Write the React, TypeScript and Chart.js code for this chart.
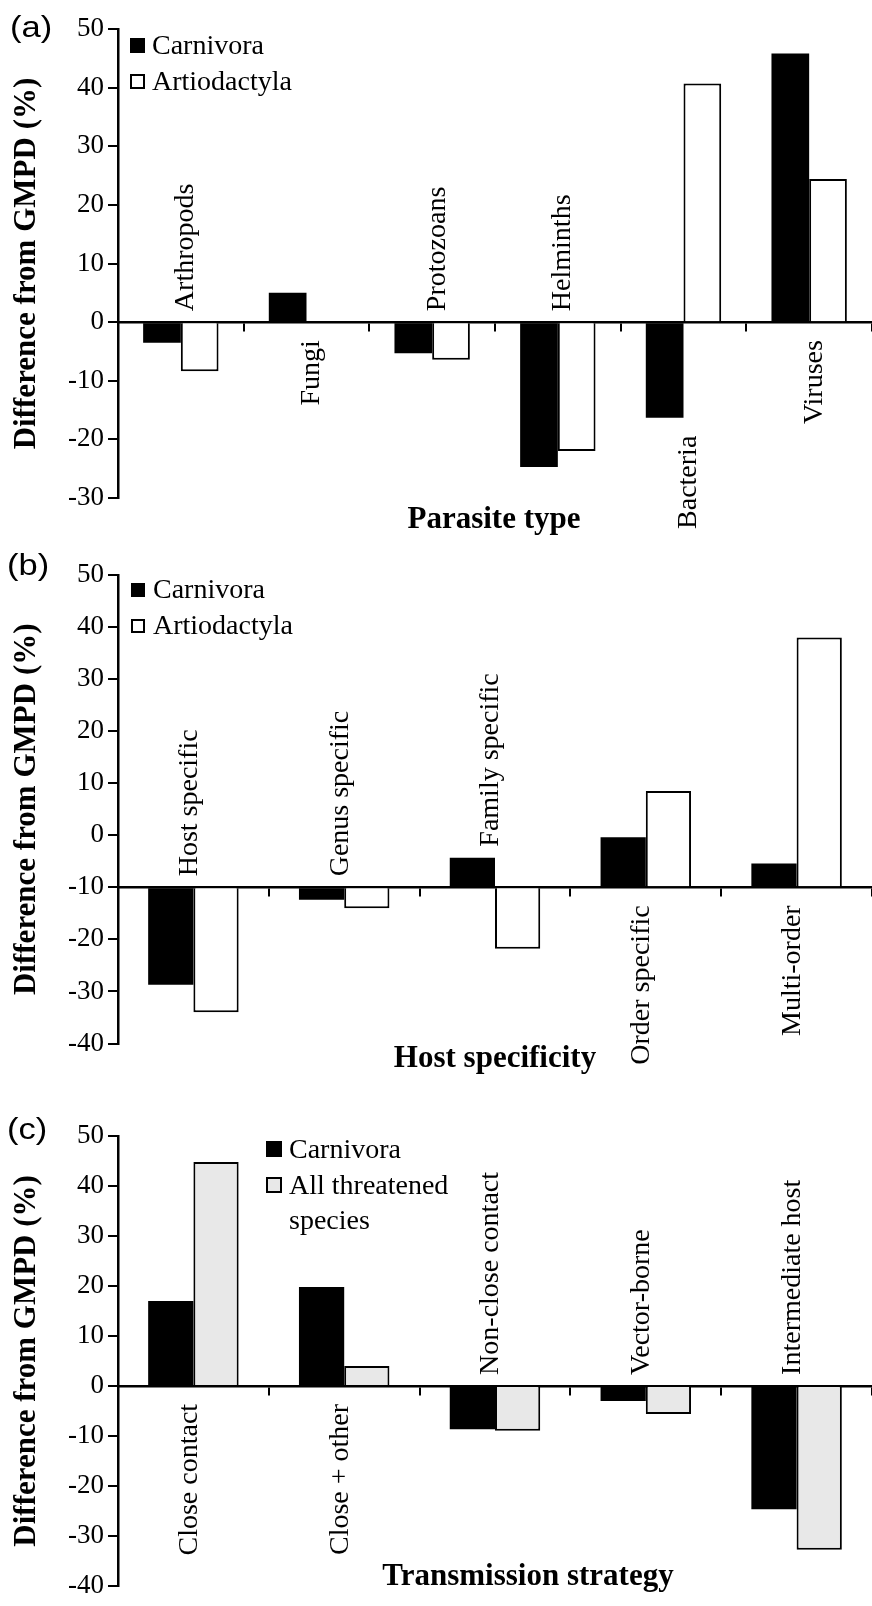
import React, { useEffect, useRef } from 'react';
import { Chart, registerables } from 'chart.js';

Chart.register(...registerables);

const SERIF = '"Liberation Serif", "Times New Roman", serif';
const SANS = '"Liberation Sans", Arial, sans-serif';

// ---------- Data ----------
// (a) Parasite type
const parasiteTypes = ['Arthropods', 'Fungi', 'Protozoans', 'Helminths', 'Bacteria', 'Viruses'];
const carnivoraParasite: (number | null)[] = [-3.5, 5.0, -5.3, -24.7, -16.3, 45.8];
const artiodactylaParasite: (number | null)[] = [-8.4, null, -6.4, -22.0, 40.7, 24.4];

// (b) Host specificity
const hostSpecificity = ['Host specific', 'Genus specific', 'Family specific', 'Order specific', 'Multi-order'];
const carnivoraHost: (number | null)[] = [-28.7, -12.4, -4.3, -0.4, -5.4];
const artiodactylaHost: (number | null)[] = [-34.0, -14.0, -21.8, 8.5, 38.0];
const hostAxisCrossing = -10;

// (c) Transmission strategy
const transmissionStrategies = ['Close contact', 'Close + other', 'Non-close contact', 'Vector-borne', 'Intermediate host'];
const carnivoraTransmission: (number | null)[] = [17.0, 19.8, -8.7, -3.0, -24.7];
const threatenedTransmission: (number | null)[] = [44.8, 4.0, -9.0, -5.6, -32.8];

const yAxisTitle = 'Difference from GMPD (%)';

type Series = { label: string[]; values: (number | null)[]; fill: string; border: number };
type PanelCfg = {
  letter: string;
  categories: string[];
  series: Series[];
  base: number;
  min: number;
  max: number;
  canvasTop: number;
  height: number;
  top: number;
  bottom: number;
  labelDx: number;
  xTitle: string;
  xTitleX: number;
  xTitleY: number;
  letterX: number;
  letterY: number;
  legend: { x: number; size: number; textX: number; tops: number[]; lineGap: number };
};

const panels: PanelCfg[] = [
  {
    letter: '(a)',
    categories: parasiteTypes,
    series: [
      { label: ['Carnivora'], values: carnivoraParasite, fill: '#000000', border: 0 },
      { label: ['Artiodactyla'], values: artiodactylaParasite, fill: '#ffffff', border: 2 },
    ],
    base: 0,
    min: -30,
    max: 50,
    canvasTop: 0,
    height: 545,
    top: 29,
    bottom: 498,
    labelDx: 5,
    xTitle: 'Parasite type',
    xTitleX: 494,
    xTitleY: 528,
    letterX: 10,
    letterY: 37,
    legend: { x: 130, size: 15, textX: 152, tops: [38, 74], lineGap: 35 },
  },
  {
    letter: '(b)',
    categories: hostSpecificity,
    series: [
      { label: ['Carnivora'], values: carnivoraHost, fill: '#000000', border: 0 },
      { label: ['Artiodactyla'], values: artiodactylaHost, fill: '#ffffff', border: 2 },
    ],
    base: hostAxisCrossing,
    min: -40,
    max: 50,
    canvasTop: 540,
    height: 548,
    top: 35,
    bottom: 503.5,
    labelDx: -4,
    xTitle: 'Host specificity',
    xTitleX: 495,
    xTitleY: 527,
    letterX: 7,
    letterY: 35,
    legend: { x: 131, size: 14, textX: 153, tops: [43, 79], lineGap: 35 },
  },
  {
    letter: '(c)',
    categories: transmissionStrategies,
    series: [
      { label: ['Carnivora'], values: carnivoraTransmission, fill: '#000000', border: 0 },
      { label: ['All threatened', 'species'], values: threatenedTransmission, fill: '#e8e8e8', border: 2 },
    ],
    base: 0,
    min: -40,
    max: 50,
    canvasTop: 1070,
    height: 536,
    top: 66,
    bottom: 530,
    labelDx: -4,
    xTitle: 'Transmission strategy',
    xTitleX: 528,
    xTitleY: 515,
    letterX: 7,
    letterY: 69,
    legend: { x: 266, size: 16, textX: 289, tops: [71, 107], lineGap: 35 },
  },
];

function makeDecorPlugin(cfg: PanelCfg) {
  return {
    id: 'panelDecor',
    afterDraw(chart: any) {
      const ctx: CanvasRenderingContext2D = chart.ctx;
      const xs = chart.scales.x;
      const ys = chart.scales.y;
      const area = chart.chartArea;
      ctx.save();
      ctx.fillStyle = '#000';

      // Category labels (rotated)
      ctx.font = `28px ${SERIF}`;
      cfg.categories.forEach((lab, i) => {
        const vals = cfg.series
          .map((s) => s.values[i])
          .filter((v) => v !== null && v !== undefined) as number[];
        const up = Math.max(0, ...vals.map((v) => v - cfg.base));
        const down = Math.max(0, ...vals.map((v) => cfg.base - v));
        const cx = xs.getPixelForValue(i) + cfg.labelDx;
        ctx.save();
        if (up <= down) {
          const y0 = ys.getPixelForValue(cfg.base + up) - 11;
          ctx.translate(cx, y0);
          ctx.rotate(-Math.PI / 2);
          ctx.textAlign = 'left';
        } else {
          const y0 = ys.getPixelForValue(cfg.base - down) + 18;
          ctx.translate(cx, y0);
          ctx.rotate(-Math.PI / 2);
          ctx.textAlign = 'right';
        }
        ctx.textBaseline = 'middle';
        ctx.fillText(lab, 0, 0);
        ctx.restore();
      });

      // Y axis title
      ctx.save();
      ctx.font = `bold 31px ${SERIF}`;
      ctx.translate(35, (area.top + area.bottom) / 2);
      ctx.rotate(-Math.PI / 2);
      ctx.textAlign = 'center';
      ctx.textBaseline = 'alphabetic';
      ctx.fillText(yAxisTitle, 0, 0);
      ctx.restore();

      // X axis title
      ctx.font = `bold 31px ${SERIF}`;
      ctx.textAlign = 'center';
      ctx.textBaseline = 'alphabetic';
      ctx.fillText(cfg.xTitle, cfg.xTitleX, cfg.xTitleY);

      // Panel letter
      ctx.save();
      ctx.font = `30px ${SANS}`;
      ctx.textAlign = 'left';
      ctx.translate(cfg.letterX, cfg.letterY);
      ctx.scale(1.15, 1);
      ctx.fillText(cfg.letter, 0, 0);
      ctx.restore();

      // Legend
      const lg = cfg.legend;
      ctx.font = `28px ${SERIF}`;
      ctx.textAlign = 'left';
      ctx.textBaseline = 'alphabetic';
      cfg.series.forEach((s, k) => {
        const top = lg.tops[k];
        ctx.fillStyle = s.fill;
        ctx.fillRect(lg.x, top, lg.size, lg.size);
        if (s.border > 0) {
          ctx.strokeStyle = '#000';
          ctx.lineWidth = 2;
          ctx.strokeRect(lg.x + 1, top + 1, lg.size - 2, lg.size - 2);
        }
        ctx.fillStyle = '#000';
        s.label.forEach((line, j) => {
          ctx.fillText(line, lg.textX, top + lg.size + 1 + j * lg.lineGap);
        });
      });

      ctx.restore();
    },
  };
}

function Panel({ cfg }: { cfg: PanelCfg }) {
  const ref = useRef<HTMLCanvasElement>(null);
  useEffect(() => {
    if (!ref.current) return;
    const chart = new Chart(ref.current, {
      type: 'bar',
      data: {
        labels: cfg.categories,
        datasets: cfg.series.map((s) => ({
          label: s.label.join(' '),
          data: s.values,
          backgroundColor: s.fill,
          borderColor: '#000000',
          borderWidth: s.border,
          borderSkipped: 'start',
          base: cfg.base,
          categoryPercentage: 0.6,
          barPercentage: 1.0,
        })) as any,
      },
      options: {
        responsive: false,
        maintainAspectRatio: false,
        animation: false,
        devicePixelRatio: 1,
        events: [],
        layout: {
          padding: { left: 0, right: 0, top: cfg.top, bottom: cfg.height - cfg.bottom },
          autoPadding: false,
        } as any,
        plugins: {
          legend: { display: false },
          tooltip: { enabled: false },
          title: { display: false },
        },
        scales: {
          x: {
            type: 'category',
            position: { y: cfg.base } as any,
            offset: true,
            z: 1,
            grid: {
              display: true,
              offset: true,
              drawOnChartArea: false,
              drawTicks: true,
              tickLength: 8,
              lineWidth: 2,
              color: '#000000',
            },
            border: { display: true, color: '#000000', width: 2.5 },
            ticks: { display: false },
            afterFit: (s: any) => {
              s.height = 0;
            },
          },
          y: {
            type: 'linear',
            position: 'left',
            min: cfg.min,
            max: cfg.max,
            grid: {
              display: true,
              drawOnChartArea: false,
              drawTicks: true,
              tickLength: 10,
              lineWidth: 2,
              color: '#000000',
            },
            border: { display: true, color: '#000000', width: 2.5 },
            ticks: {
              stepSize: 10,
              autoSkip: false,
              color: '#000000',
              padding: 4,
              font: { family: SERIF, size: 27 },
            },
            afterFit: (s: any) => {
              s.width = 118;
            },
          },
        } as any,
      },
      plugins: [makeDecorPlugin(cfg)],
    });
    return () => chart.destroy();
  }, [cfg]);
  return (
    <canvas
      ref={ref}
      width={872}
      height={cfg.height}
      style={{ position: 'absolute', left: 0, top: cfg.canvasTop, display: 'block', width: 872, height: cfg.height }}
    />
  );
}

export default function App() {
  return (
    <div style={{ position: 'absolute', left: 0, top: 0, width: 872, height: 1606, background: '#fff', overflow: 'hidden' }}>
      {panels.map((p) => (
        <Panel key={p.letter} cfg={p} />
      ))}
    </div>
  );
}
